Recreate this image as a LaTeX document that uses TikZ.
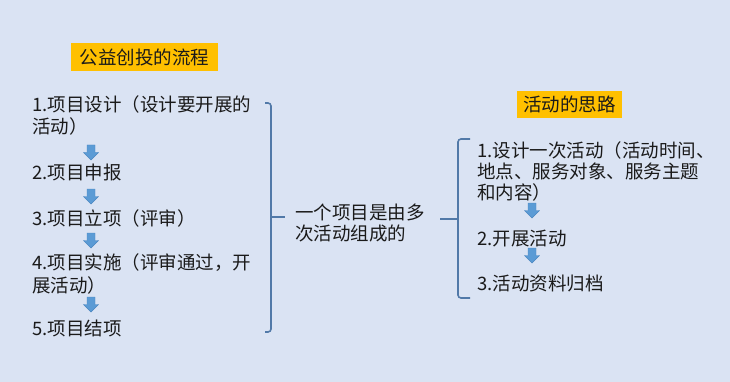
\documentclass[tikz,border=0pt]{standalone}
\usepackage{fontspec}
\setmainfont{Noto Sans CJK SC}
\definecolor{bgc}{HTML}{DAE3F3}
\definecolor{ttl}{HTML}{FFC000}
\definecolor{arrf}{HTML}{5B9BD5}
\definecolor{arrd}{HTML}{4A86C0}
\definecolor{brc}{HTML}{5179A8}
\definecolor{txc}{HTML}{1A1A1A}
\tikzset{
  txt/.style={anchor=base west, inner sep=0pt, align=left, text=txc,
    font=\fontsize{18.5}{22}\selectfont},
  ttlbox/.style={fill=ttl, inner sep=0pt, text=txc, font=\fontsize{18.5}{22}\selectfont},
  brk/.style={draw=brc, line width=1.6pt, rounded corners=3pt},
  darr/.pic={\fill[arrf, draw=arrd, line width=0.4pt] (-4,0) -- (4,0) -- (4,7.5) -- (7.5,7.5) -- (0,15) -- (-7.5,7.5) -- (-4,7.5) -- cycle;}
}
\begin{document}
\begin{tikzpicture}[x=1pt,y=-1pt]
\fill[bgc] (0,0) rectangle (730,382);
\useasboundingbox (0,0) rectangle (730,382);
% titles
\node[ttlbox, minimum width=147pt, minimum height=28pt] (t1) at (144.5,57) {公益创投的流程};
\node[ttlbox, minimum width=105pt, minimum height=27pt] (t2) at (569.5,104.5) {活动的思路};
% left list (base anchor = baseline of last line)
\node[txt] (l1) at (32,134) {1.项目设计（设计要开展的\\活动）};
\node[txt] (l2) at (32,179) {2.项目申报};
\node[txt] (l3) at (32,225) {3.项目立项（评审）};
\node[txt, font=\fontsize{18.5}{23}\selectfont] (l4) at (32,292) {4.项目实施（评审通过，开\\展活动）};
\node[txt] (l5) at (32,335) {5.项目结项};
\pic at (91,145) {darr};
\pic at (91,189) {darr};
\pic at (91,233) {darr};
\pic at (91,297) {darr};
% left bracket
\draw[brk] (265,103) -- (271,103) -- (271,332) -- (265,332);
\draw[draw=brc, line width=1.6pt] (271,217) -- (285,217);
% middle
\node[txt, font=\fontsize{18.5}{20.5}\selectfont] (mid) at (295,240) {一个项目是由多\\次活动组成的};
% right bracket
\draw[brk] (470,139) -- (458,139) -- (458,298) -- (470,298);
\draw[draw=brc, line width=1.6pt] (458,219) -- (440,219);
% right list
\node[txt, font=\fontsize{18.5}{21.5}\selectfont] (r1) at (477,200) {1.设计一次活动（活动时间、\\地点、服务对象、服务主题\\和内容）};
\node[txt] (r2) at (477,245) {2.开展活动};
\node[txt] (r3) at (477,290) {3.活动资料归档};
\pic at (532,203) {darr};
\pic at (532,248) {darr};
\end{tikzpicture}
\end{document}
